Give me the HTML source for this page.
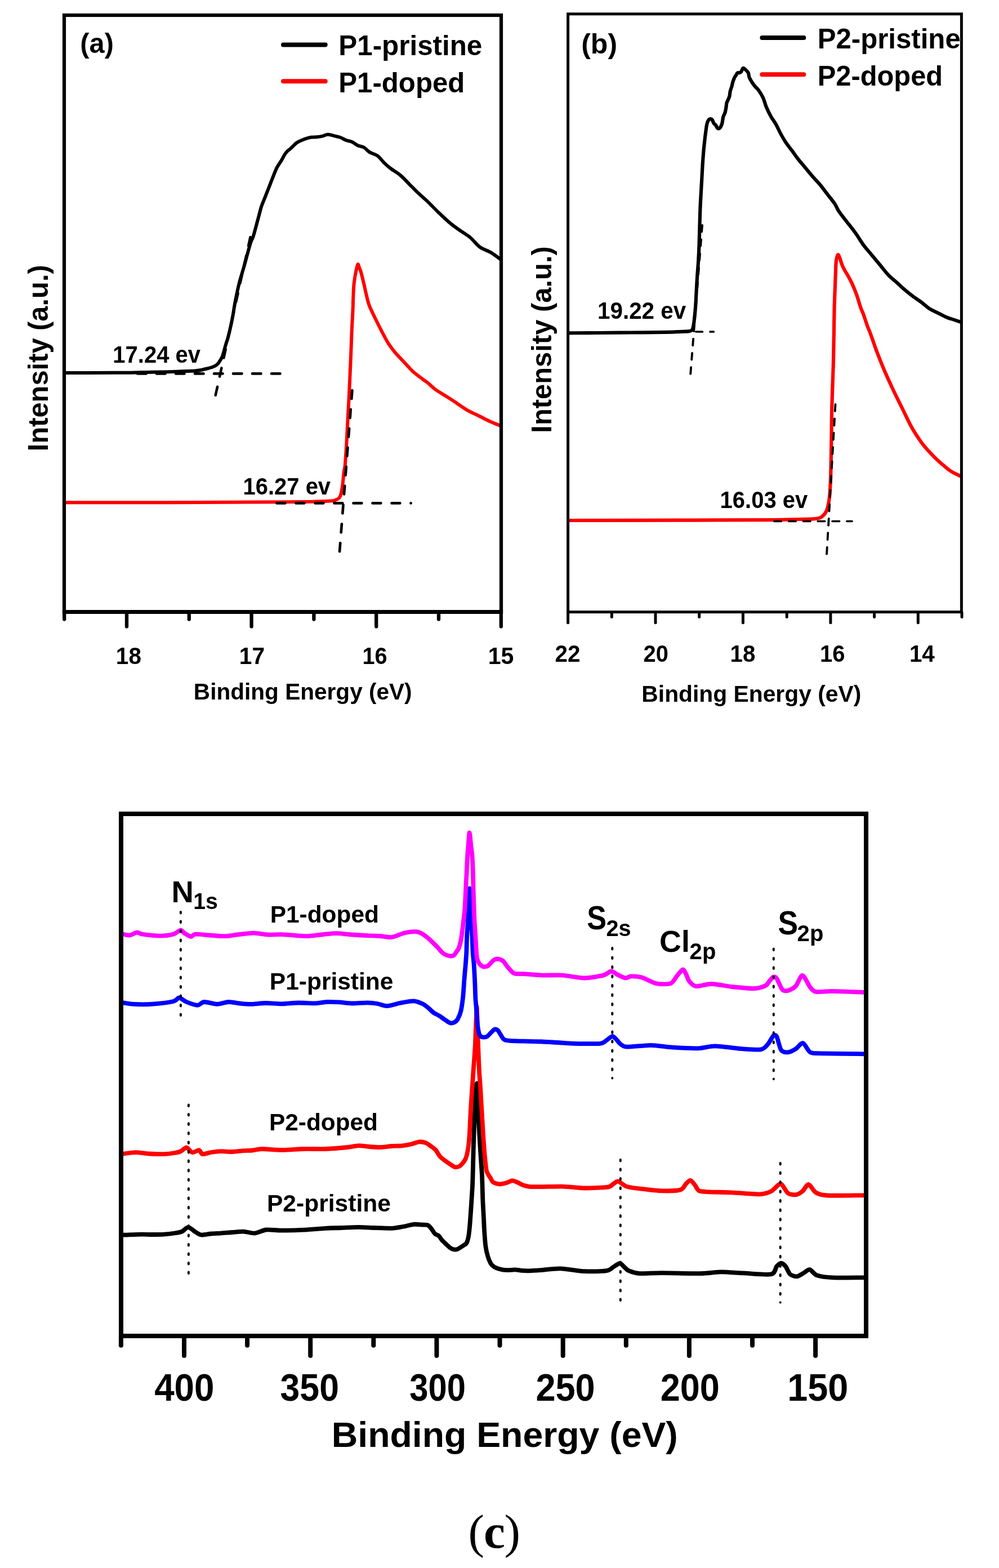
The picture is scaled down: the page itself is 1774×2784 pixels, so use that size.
<!DOCTYPE html>
<html><head><meta charset="utf-8"><title>Figure</title>
<style>html,body{margin:0;padding:0;background:#fff;}svg{display:block;}</style></head>
<body><svg xmlns="http://www.w3.org/2000/svg" width="1774" height="2784" viewBox="0 0 1774 2784">
<rect width="1774" height="2784" fill="#fff"/>
<path d="M114.0,661.9 C128.3,661.9 179.0,661.9 200.0,661.8 C221.0,661.7 223.3,661.7 240.0,661.4 C256.7,661.1 283.3,660.6 300.0,660.2 C316.7,659.8 331.8,659.1 340.0,658.8 C348.2,658.4 346.1,658.5 349.1,658.1 C352.2,657.8 355.2,657.3 358.3,656.7 C361.4,656.1 364.4,655.3 367.4,654.5 C370.4,653.7 373.8,653.0 376.5,652.0 C379.2,651.0 381.5,650.0 383.4,648.8 C385.3,647.6 386.5,646.3 387.9,644.6 C389.3,642.9 390.6,640.5 391.8,638.5 C393.0,636.5 393.9,635.4 395.0,632.5 C396.1,629.6 397.3,624.8 398.4,621.0 C399.5,617.2 400.4,613.5 401.5,610.0 C402.6,606.5 403.3,604.8 404.7,599.7 C406.1,594.7 408.1,586.4 409.6,579.7 C411.1,573.1 412.4,566.4 413.6,559.8 C414.8,553.2 415.7,546.5 416.9,539.9 C418.1,533.2 419.5,526.5 420.9,519.9 C422.3,513.2 423.5,507.5 425.5,500.0 C427.5,492.5 430.5,483.2 432.9,474.8 C435.3,466.4 437.7,457.1 439.7,449.8 C441.7,442.5 443.4,436.0 445.0,431.0 C446.6,426.0 448.0,424.8 449.6,420.0 C451.2,415.2 453.0,408.0 454.6,402.1 C456.2,396.2 457.7,390.5 459.3,384.7 C460.9,378.9 462.1,373.0 464.0,367.2 C465.9,361.4 468.5,355.6 470.8,349.8 C473.1,344.0 475.4,338.1 477.7,332.3 C480.0,326.5 482.1,320.7 484.5,314.9 C486.9,309.1 489.2,302.5 491.8,297.4 C494.4,292.3 497.8,288.2 500.0,284.5 C502.2,280.8 503.5,277.7 505.2,275.0 C506.9,272.3 508.7,270.1 510.4,268.3 C512.1,266.5 513.9,265.7 515.6,264.1 C517.4,262.5 519.1,260.6 520.9,258.9 C522.6,257.2 524.4,255.3 526.1,254.0 C527.8,252.7 528.7,252.2 531.3,251.0 C533.9,249.8 538.2,247.8 541.7,246.6 C545.2,245.4 548.7,244.4 552.2,243.8 C555.7,243.2 559.1,243.7 562.6,243.3 C566.1,242.9 569.7,242.3 573.0,241.6 C576.3,240.8 578.9,238.8 582.4,238.8 C585.9,238.8 590.2,240.5 593.9,241.4 C597.5,242.3 600.8,242.7 604.3,244.0 C607.8,245.3 611.2,247.7 614.7,249.0 C618.2,250.3 621.7,250.5 625.2,252.1 C628.7,253.7 632.1,256.8 635.6,258.4 C639.1,260.0 642.5,259.5 646.0,261.5 C649.5,263.5 652.4,267.9 656.5,270.4 C660.6,272.9 666.2,273.5 670.5,276.6 C674.8,279.8 678.4,285.5 682.4,289.3 C686.4,293.1 689.4,295.8 694.2,299.5 C699.0,303.2 705.6,306.6 711.2,311.4 C716.9,316.2 723.0,323.2 728.1,328.3 C733.2,333.4 736.6,337.1 741.7,341.9 C746.8,346.7 752.4,351.2 758.6,357.1 C764.8,363.0 772.2,371.0 779.0,377.5 C785.8,384.0 793.1,390.9 799.3,396.1 C805.5,401.3 810.4,404.6 816.3,408.8 C822.2,413.0 829.0,416.6 834.9,421.5 C840.8,426.4 845.7,434.0 851.9,438.5 C858.1,443.0 865.9,444.8 872.2,448.6 C878.6,452.4 887.0,459.4 890.0,461.5" fill="none" stroke="#000000" stroke-width="6.0" stroke-linejoin="round" stroke-linecap="butt"/>
<path d="M114.0,892.2 C145.0,892.2 244.0,892.3 300.0,892.2 C356.0,892.1 410.0,891.8 450.0,891.6 C490.0,891.4 517.3,891.3 540.0,891.0 C562.7,890.7 576.7,890.2 586.1,889.6 C595.5,889.0 593.9,888.2 596.5,887.4 C599.1,886.6 600.3,885.9 601.7,884.6 C603.1,883.3 603.9,881.7 604.8,879.5 C605.6,877.3 606.2,874.4 606.8,871.3 C607.4,868.2 607.8,864.4 608.3,860.9 C608.8,857.4 609.1,854.2 609.5,850.4 C609.9,846.6 610.2,842.0 610.7,838.0 C611.2,834.0 611.9,834.7 612.7,826.6 C613.5,818.5 614.4,803.7 615.3,789.2 C616.2,774.7 617.0,756.0 617.9,739.4 C618.8,722.8 619.7,706.1 620.5,689.5 C621.3,672.9 622.0,656.3 622.7,639.7 C623.4,623.1 624.0,604.8 624.6,589.8 C625.2,574.8 626.2,560.0 626.6,550.0 C627.0,540.0 626.9,537.0 627.2,530.0 C627.5,523.0 627.8,514.0 628.2,508.0 C628.7,502.0 629.2,498.5 629.9,494.1 C630.6,489.7 631.3,485.6 632.2,481.5 C633.1,477.4 634.4,470.2 635.4,469.3 C636.4,468.4 637.4,473.8 638.3,476.0 C639.2,478.2 639.9,479.4 640.8,482.4 C641.7,485.4 642.8,490.2 643.8,494.1 C644.8,498.0 645.5,501.2 646.6,505.8 C647.7,510.4 648.9,516.3 650.1,521.5 C651.3,526.7 652.8,533.0 654.0,537.1 C655.2,541.2 655.2,541.5 657.2,546.0 C659.2,550.5 662.4,557.3 665.7,564.0 C669.0,570.7 673.9,580.6 676.9,586.4 C679.9,592.2 681.2,594.9 683.5,599.0 C685.8,603.1 687.5,606.6 690.4,610.9 C693.3,615.2 697.4,620.8 700.9,625.0 C704.4,629.2 707.8,632.7 711.3,636.4 C714.8,640.1 718.2,643.7 721.7,647.4 C725.2,651.1 728.7,655.3 732.2,658.6 C735.7,661.9 739.1,664.5 742.6,667.2 C746.1,669.9 750.1,672.9 753.0,675.0 C755.9,677.1 756.7,677.3 760.0,680.0 C763.3,682.7 767.8,687.5 773.0,691.3 C778.2,695.1 785.2,699.1 791.3,703.0 C797.4,706.9 803.0,710.4 809.5,714.7 C816.0,719.0 823.6,724.7 830.4,728.6 C837.1,732.5 843.5,735.0 850.0,738.2 C856.5,741.4 862.8,745.0 869.5,748.0 C876.2,751.0 886.6,755.1 890.0,756.5" fill="none" stroke="#FF0000" stroke-width="6.0" stroke-linejoin="round" stroke-linecap="butt"/>
<line x1="244.0" y1="663.4" x2="497.5" y2="663.4" stroke="#000000" stroke-width="4.6" stroke-linecap="round" stroke-dasharray="15.5 18.5" stroke-dashoffset="0"/>
<line x1="444.5" y1="421.0" x2="380.5" y2="712.0" stroke="#000000" stroke-width="4.6" stroke-linecap="round" stroke-dasharray="15.5 18.5" stroke-dashoffset="0"/>
<line x1="491.5" y1="893.4" x2="729.6" y2="893.4" stroke="#000000" stroke-width="4.7" stroke-linecap="round" stroke-dasharray="14.8 19.2" stroke-dashoffset="0"/>
<line x1="625.4" y1="693.0" x2="602.6" y2="985.0" stroke="#000000" stroke-width="4.7" stroke-linecap="round" stroke-dasharray="15 19" stroke-dashoffset="0"/>
<rect x="114.0" y="27.0" width="776.0" height="1059.5" fill="none" stroke="#000" stroke-width="6.2"/>
<line x1="110.9" y1="1086.5" x2="893.1" y2="1086.5" stroke="#000000" stroke-width="7.0" stroke-linecap="butt"/>
<line x1="114.2" y1="1087.5" x2="114.2" y2="1099.6" stroke="#000000" stroke-width="6.3" stroke-linecap="round"/>
<line x1="225.0" y1="1087.5" x2="225.0" y2="1112.4" stroke="#000000" stroke-width="6.3" stroke-linecap="round"/>
<line x1="335.8" y1="1087.5" x2="335.8" y2="1099.6" stroke="#000000" stroke-width="6.3" stroke-linecap="round"/>
<line x1="446.6" y1="1087.5" x2="446.6" y2="1112.4" stroke="#000000" stroke-width="6.3" stroke-linecap="round"/>
<line x1="557.4" y1="1087.5" x2="557.4" y2="1099.6" stroke="#000000" stroke-width="6.3" stroke-linecap="round"/>
<line x1="668.2" y1="1087.5" x2="668.2" y2="1112.4" stroke="#000000" stroke-width="6.3" stroke-linecap="round"/>
<line x1="779.0" y1="1087.5" x2="779.0" y2="1099.6" stroke="#000000" stroke-width="6.3" stroke-linecap="round"/>
<line x1="889.8" y1="1087.5" x2="889.8" y2="1112.4" stroke="#000000" stroke-width="6.3" stroke-linecap="round"/>
<text x="205.87" y="1178.90" font-size="41.6" font-family='"Liberation Sans", Arial, sans-serif' font-weight="bold" textLength="45.04" lengthAdjust="spacingAndGlyphs">18</text>
<text x="424.76" y="1178.90" font-size="41.6" font-family='"Liberation Sans", Arial, sans-serif' font-weight="bold" textLength="45.27" lengthAdjust="spacingAndGlyphs">17</text>
<text x="643.42" y="1178.90" font-size="41.6" font-family='"Liberation Sans", Arial, sans-serif' font-weight="bold" textLength="44.16" lengthAdjust="spacingAndGlyphs">16</text>
<text x="866.73" y="1178.90" font-size="41.6" font-family='"Liberation Sans", Arial, sans-serif' font-weight="bold" textLength="45.69" lengthAdjust="spacingAndGlyphs">15</text>
<text x="343.86" y="1241.80" font-size="40.6" font-family='"Liberation Sans", Arial, sans-serif' font-weight="bold">Binding Energy (eV)</text>
<text transform="translate(84.80,797.90) rotate(-90)" x="-3.29" y="0" font-size="49.4" font-family='"Liberation Sans", Arial, sans-serif' font-weight="bold" textLength="330.89" lengthAdjust="spacingAndGlyphs">Intensity (a.u.)</text>
<text x="142.36" y="94.30" font-size="49.5" font-family='"Liberation Sans", Arial, sans-serif' font-weight="bold" textLength="59.56" lengthAdjust="spacingAndGlyphs">(a)</text>
<line x1="503.0" y1="79.4" x2="577.7" y2="79.4" stroke="#000000" stroke-width="8" stroke-linecap="round"/>
<line x1="503.0" y1="144.2" x2="577.7" y2="144.2" stroke="#FF0000" stroke-width="8" stroke-linecap="round"/>
<text x="601.27" y="97.90" font-size="49.6" font-family='"Liberation Sans", Arial, sans-serif' font-weight="bold" textLength="255.07" lengthAdjust="spacingAndGlyphs">P1-pristine</text>
<text x="601.28" y="163.90" font-size="49.6" font-family='"Liberation Sans", Arial, sans-serif' font-weight="bold" textLength="224.05" lengthAdjust="spacingAndGlyphs">P1-doped</text>
<text x="200.30" y="643.80" font-size="41.6" font-family='"Liberation Sans", Arial, sans-serif' font-weight="bold" textLength="155.71" lengthAdjust="spacingAndGlyphs">17.24 ev</text>
<text x="431.50" y="877.50" font-size="41.6" font-family='"Liberation Sans", Arial, sans-serif' font-weight="bold" textLength="155.61" lengthAdjust="spacingAndGlyphs">16.27 ev</text>
<path d="M1008.6,591.3 C1017.2,591.2 1041.4,591.1 1060.0,591.0 C1078.6,590.9 1100.0,590.7 1120.0,590.5 C1140.0,590.3 1164.2,590.1 1180.0,589.8 C1195.8,589.5 1207.7,588.9 1215.0,588.6 C1222.3,588.3 1221.8,588.3 1224.0,588.0 C1226.2,587.7 1227.0,587.4 1228.0,586.6 C1229.0,585.9 1229.5,585.9 1230.2,583.5 C1230.9,581.1 1231.6,578.5 1232.4,572.0 C1233.2,565.5 1234.4,553.6 1235.1,544.5 C1235.8,535.4 1236.1,526.2 1236.6,517.1 C1237.1,508.0 1237.6,498.8 1238.2,489.7 C1238.8,480.6 1239.7,471.4 1240.2,462.3 C1240.8,453.2 1241.2,444.0 1241.5,434.8 C1241.8,425.6 1242.0,417.7 1242.3,407.4 C1242.6,397.1 1242.9,383.2 1243.3,373.1 C1243.7,363.0 1244.1,355.7 1244.6,347.0 C1245.1,338.3 1245.6,329.5 1246.1,320.8 C1246.6,312.1 1247.0,303.3 1247.5,294.6 C1248.0,285.9 1248.8,275.8 1249.4,268.5 C1250.0,261.2 1250.6,256.8 1251.2,251.0 C1251.8,245.2 1252.6,238.7 1253.3,233.6 C1254.0,228.5 1254.5,223.8 1255.3,220.5 C1256.1,217.2 1256.9,215.1 1258.0,213.5 C1259.1,211.9 1260.8,211.1 1262.0,211.0 C1263.2,210.9 1264.0,211.7 1264.9,213.0 C1265.8,214.3 1266.5,217.2 1267.5,218.8 C1268.5,220.4 1269.8,220.8 1271.0,222.3 C1272.2,223.8 1273.2,227.3 1274.5,228.0 C1275.8,228.7 1277.5,228.1 1278.8,226.6 C1280.1,225.1 1281.4,222.0 1282.3,218.8 C1283.2,215.6 1283.4,210.5 1284.3,207.4 C1285.2,204.3 1286.7,202.7 1287.5,200.0 C1288.3,197.3 1288.8,194.2 1289.3,191.4 C1289.8,188.6 1289.8,185.5 1290.4,183.1 C1291.0,180.7 1292.2,178.9 1293.0,176.8 C1293.8,174.7 1294.9,173.0 1295.5,170.6 C1296.1,168.2 1296.0,165.1 1296.6,162.3 C1297.2,159.5 1298.5,156.8 1299.3,154.0 C1300.1,151.2 1300.7,147.8 1301.3,145.7 C1301.9,143.6 1302.3,142.9 1302.8,141.5 C1303.3,140.1 1303.8,138.8 1304.5,137.4 C1305.2,136.0 1306.4,134.5 1307.2,133.2 C1308.0,131.9 1308.5,130.2 1309.5,129.5 C1310.5,128.8 1312.1,129.3 1313.2,129.0 C1314.3,128.7 1315.0,128.8 1316.1,127.5 C1317.1,126.2 1318.2,121.7 1319.5,121.0 C1320.8,120.3 1322.1,122.2 1323.6,123.5 C1325.1,124.8 1327.4,126.7 1328.6,129.0 C1329.8,131.3 1329.4,134.4 1330.6,137.4 C1331.8,140.4 1334.3,144.4 1336.0,147.0 C1337.7,149.6 1338.7,150.8 1340.5,153.0 C1342.3,155.2 1344.5,156.7 1346.9,160.0 C1349.3,163.3 1352.4,167.8 1354.8,173.0 C1357.2,178.2 1358.9,185.7 1361.3,191.3 C1363.7,197.0 1366.3,201.9 1369.1,206.9 C1371.9,211.9 1375.4,216.3 1378.2,221.3 C1381.0,226.3 1383.2,231.7 1386.0,236.9 C1388.8,242.1 1391.7,247.3 1395.2,252.5 C1398.7,257.7 1403.2,263.2 1406.9,268.2 C1410.6,273.2 1413.4,277.5 1417.3,282.5 C1421.2,287.5 1426.1,293.0 1430.4,298.2 C1434.8,303.4 1439.1,308.8 1443.4,313.8 C1447.8,318.8 1452.2,323.0 1456.5,328.2 C1460.8,333.4 1465.2,339.5 1469.5,345.1 C1473.8,350.8 1479.1,357.0 1482.5,362.1 C1485.9,367.2 1486.3,370.4 1490.0,375.8 C1493.7,381.2 1499.7,388.5 1504.6,394.8 C1509.5,401.1 1514.3,407.0 1519.2,413.8 C1524.1,420.6 1528.9,429.1 1533.8,435.7 C1538.7,442.3 1543.5,447.3 1548.4,453.2 C1553.3,459.1 1558.1,464.9 1563.0,470.8 C1567.9,476.7 1572.7,483.2 1577.6,488.3 C1582.5,493.4 1587.3,497.0 1592.2,501.4 C1597.1,505.8 1601.9,510.5 1606.8,514.6 C1611.7,518.7 1616.5,522.6 1621.4,526.2 C1626.3,529.9 1631.1,532.8 1636.0,536.5 C1640.9,540.2 1645.7,545.0 1650.6,548.2 C1655.5,551.4 1660.3,553.1 1665.2,555.5 C1670.1,557.9 1674.9,560.7 1679.8,562.8 C1684.7,564.9 1689.8,566.3 1694.4,567.9 C1699.0,569.5 1705.2,571.5 1707.4,572.2" fill="none" stroke="#000000" stroke-width="6.2" stroke-linejoin="round" stroke-linecap="butt"/>
<path d="M1008.6,924.0 C1040.5,923.9 1141.4,923.8 1200.0,923.6 C1258.6,923.5 1323.3,923.4 1360.0,923.1 C1396.7,922.8 1405.5,922.3 1420.0,922.0 C1434.5,921.7 1440.4,921.9 1446.8,921.2 C1453.2,920.5 1455.1,920.5 1458.6,918.0 C1462.1,915.5 1465.7,911.7 1468.0,906.2 C1470.3,900.7 1471.4,894.5 1472.6,885.1 C1473.8,875.7 1474.4,865.5 1475.0,849.9 C1475.6,834.2 1475.8,812.7 1476.2,791.2 C1476.6,769.7 1476.7,744.3 1477.3,720.8 C1477.9,697.3 1479.1,672.2 1479.7,650.4 C1480.3,628.6 1480.6,604.6 1480.9,590.0 C1481.2,575.4 1481.1,571.9 1481.3,562.9 C1481.5,553.9 1481.6,545.2 1481.9,536.3 C1482.2,527.4 1482.6,518.5 1482.9,509.7 C1483.2,500.9 1483.6,490.9 1483.9,483.2 C1484.2,475.4 1484.2,468.3 1484.9,463.2 C1485.6,458.1 1486.9,453.2 1487.9,452.3 C1489.0,451.4 1490.0,454.9 1491.2,457.9 C1492.4,460.8 1493.8,466.4 1495.2,470.0 C1496.7,473.6 1498.2,476.7 1499.9,479.8 C1501.6,482.9 1503.4,485.4 1505.2,488.5 C1507.0,491.6 1508.7,494.9 1510.5,498.4 C1512.3,501.9 1514.1,505.8 1515.8,509.7 C1517.5,513.6 1519.0,517.7 1520.5,521.7 C1522.0,525.7 1523.2,529.6 1524.5,533.7 C1525.8,537.8 1527.0,542.3 1528.4,546.3 C1529.8,550.3 1531.6,553.7 1533.1,557.6 C1534.5,561.5 1535.8,565.8 1537.1,569.5 C1538.4,573.2 1539.3,576.4 1540.7,580.0 C1542.1,583.6 1543.6,586.7 1545.2,591.0 C1546.8,595.3 1548.6,600.6 1550.5,606.0 C1552.4,611.4 1553.4,614.8 1556.6,623.2 C1559.8,631.6 1565.2,645.4 1569.9,656.5 C1574.6,667.6 1579.7,678.6 1584.9,689.7 C1590.1,700.8 1595.8,711.9 1601.2,723.0 C1606.7,734.1 1613.1,747.8 1617.6,756.2 C1622.1,764.6 1624.4,768.0 1628.0,773.5 C1631.6,779.0 1634.0,783.1 1639.2,789.5 C1644.4,795.9 1653.4,805.7 1659.2,811.6 C1665.0,817.5 1669.1,820.8 1674.0,825.0 C1678.9,829.2 1682.9,833.1 1688.5,836.6 C1694.1,840.1 1704.2,844.6 1707.4,846.2" fill="none" stroke="#FF0000" stroke-width="6.2" stroke-linejoin="round" stroke-linecap="butt"/>
<line x1="1160.0" y1="589.0" x2="1267.3" y2="589.0" stroke="#000000" stroke-width="3.7" stroke-linecap="round" stroke-dasharray="11.5 13.6" stroke-dashoffset="-0.6"/>
<line x1="1247.0" y1="400.0" x2="1225.4" y2="674.0" stroke="#000000" stroke-width="3.9" stroke-linecap="round" stroke-dasharray="11.5 13.8" stroke-dashoffset="0"/>
<line x1="1374.8" y1="925.5" x2="1513.1" y2="925.5" stroke="#000000" stroke-width="3.6" stroke-linecap="round" stroke-dasharray="12.6 13.2" stroke-dashoffset="0"/>
<line x1="1483.5" y1="718.0" x2="1468.0" y2="985.0" stroke="#000000" stroke-width="3.8" stroke-linecap="round" stroke-dasharray="12 13.4" stroke-dashoffset="0"/>
<rect x="1008.6" y="24.8" width="698.8000000000001" height="1061.8" fill="none" stroke="#000" stroke-width="5.0"/>
<line x1="1008.6" y1="1087.6" x2="1008.6" y2="1105.8" stroke="#000000" stroke-width="5.0" stroke-linecap="round"/>
<line x1="1086.3" y1="1087.6" x2="1086.3" y2="1095.5" stroke="#000000" stroke-width="5.0" stroke-linecap="round"/>
<line x1="1164.0" y1="1087.6" x2="1164.0" y2="1105.8" stroke="#000000" stroke-width="5.0" stroke-linecap="round"/>
<line x1="1241.7" y1="1087.6" x2="1241.7" y2="1095.5" stroke="#000000" stroke-width="5.0" stroke-linecap="round"/>
<line x1="1319.4" y1="1087.6" x2="1319.4" y2="1105.8" stroke="#000000" stroke-width="5.0" stroke-linecap="round"/>
<line x1="1397.2" y1="1087.6" x2="1397.2" y2="1095.5" stroke="#000000" stroke-width="5.0" stroke-linecap="round"/>
<line x1="1474.9" y1="1087.6" x2="1474.9" y2="1105.8" stroke="#000000" stroke-width="5.0" stroke-linecap="round"/>
<line x1="1552.6" y1="1087.6" x2="1552.6" y2="1095.5" stroke="#000000" stroke-width="5.0" stroke-linecap="round"/>
<line x1="1630.3" y1="1087.6" x2="1630.3" y2="1105.8" stroke="#000000" stroke-width="5.0" stroke-linecap="round"/>
<line x1="1708.0" y1="1087.6" x2="1708.0" y2="1095.5" stroke="#000000" stroke-width="5.0" stroke-linecap="round"/>
<text x="985.49" y="1175.20" font-size="41.6" font-family='"Liberation Sans", Arial, sans-serif' font-weight="bold" textLength="44.92" lengthAdjust="spacingAndGlyphs">22</text>
<text x="1142.51" y="1175.20" font-size="41.6" font-family='"Liberation Sans", Arial, sans-serif' font-weight="bold" textLength="44.28" lengthAdjust="spacingAndGlyphs">20</text>
<text x="1296.48" y="1175.20" font-size="41.6" font-family='"Liberation Sans", Arial, sans-serif' font-weight="bold" textLength="44.82" lengthAdjust="spacingAndGlyphs">18</text>
<text x="1456.00" y="1175.20" font-size="41.6" font-family='"Liberation Sans", Arial, sans-serif' font-weight="bold" textLength="44.49" lengthAdjust="spacingAndGlyphs">16</text>
<text x="1614.88" y="1175.20" font-size="41.6" font-family='"Liberation Sans", Arial, sans-serif' font-weight="bold" textLength="44.92" lengthAdjust="spacingAndGlyphs">14</text>
<text x="1139.35" y="1245.80" font-size="40.6" font-family='"Liberation Sans", Arial, sans-serif' font-weight="bold" textLength="389.95" lengthAdjust="spacingAndGlyphs">Binding Energy (eV)</text>
<text transform="translate(978.90,765.40) rotate(-90)" x="-3.30" y="0" font-size="49.4" font-family='"Liberation Sans", Arial, sans-serif' font-weight="bold" textLength="331.50" lengthAdjust="spacingAndGlyphs">Intensity (a.u.)</text>
<text x="1032.20" y="94.70" font-size="50" font-family='"Liberation Sans", Arial, sans-serif' font-weight="bold">(b)</text>
<line x1="1353.4" y1="66.9" x2="1427.3" y2="66.9" stroke="#000000" stroke-width="8" stroke-linecap="round"/>
<line x1="1353.4" y1="132.3" x2="1427.3" y2="132.3" stroke="#FF0000" stroke-width="8" stroke-linecap="round"/>
<text x="1451.68" y="86.10" font-size="50" font-family='"Liberation Sans", Arial, sans-serif' font-weight="bold" textLength="254.05" lengthAdjust="spacingAndGlyphs">P2-pristine</text>
<text x="1451.70" y="152.10" font-size="50" font-family='"Liberation Sans", Arial, sans-serif' font-weight="bold" textLength="222.51" lengthAdjust="spacingAndGlyphs">P2-doped</text>
<text x="1061.08" y="566.10" font-size="41.6" font-family='"Liberation Sans", Arial, sans-serif' font-weight="bold" textLength="157.03" lengthAdjust="spacingAndGlyphs">19.22 ev</text>
<text x="1278.50" y="902.00" font-size="41.6" font-family='"Liberation Sans", Arial, sans-serif' font-weight="bold" textLength="155.81" lengthAdjust="spacingAndGlyphs">16.03 ev</text>
<path d="M219.0,2192.6 C223.2,2192.5 243.6,2191.7 250.4,2191.6 C257.2,2191.5 264.6,2192.0 270.0,2192.0 C275.4,2192.0 285.5,2191.9 290.8,2191.6 C296.1,2191.3 305.7,2190.2 310.0,2189.5 C314.3,2188.8 320.0,2188.0 323.2,2186.6 C326.4,2185.2 331.1,2179.1 334.3,2179.2 C337.5,2179.3 344.3,2185.8 347.4,2187.6 C350.5,2189.4 353.8,2192.2 357.5,2192.6 C361.2,2193.0 370.4,2190.9 375.0,2190.5 C379.6,2190.1 387.0,2189.9 391.9,2189.6 C396.8,2189.3 406.6,2188.4 412.0,2188.0 C417.4,2187.6 426.9,2186.4 432.3,2186.6 C437.7,2186.8 447.1,2190.0 452.5,2189.6 C457.9,2189.2 466.4,2184.2 472.7,2183.5 C479.0,2182.8 491.1,2184.7 500.0,2184.7 C508.9,2184.7 528.7,2184.2 539.1,2183.7 C549.5,2183.2 569.4,2181.3 578.2,2180.8 C587.0,2180.3 597.2,2180.3 605.0,2180.0 C612.8,2179.7 628.9,2178.8 636.9,2178.8 C644.9,2178.8 657.2,2179.7 665.0,2180.0 C672.8,2180.3 688.9,2181.1 695.6,2180.8 C702.3,2180.5 709.8,2178.9 715.0,2178.0 C720.2,2177.1 730.1,2174.4 734.7,2173.9 C739.3,2173.4 746.5,2174.3 749.8,2174.5 C753.1,2174.7 757.4,2174.2 759.6,2175.2 C761.8,2176.2 764.4,2179.6 766.1,2181.7 C767.8,2183.8 770.9,2189.1 772.6,2190.8 C774.3,2192.5 777.5,2192.7 779.1,2194.1 C780.7,2195.5 782.6,2199.3 784.3,2201.3 C786.0,2203.3 790.3,2207.3 792.2,2209.1 C794.1,2210.9 797.0,2213.8 798.7,2215.0 C800.4,2216.2 803.5,2217.8 805.2,2218.2 C806.9,2218.6 809.5,2219.0 811.7,2218.2 C813.9,2217.4 819.3,2213.9 821.5,2212.4 C823.7,2210.9 827.1,2209.5 828.5,2207.0 C829.9,2204.5 831.4,2198.6 832.2,2194.0 C833.0,2189.4 833.9,2179.8 834.5,2172.6 C835.1,2165.4 836.2,2149.7 836.8,2140.0 C837.4,2130.3 838.7,2113.2 839.2,2100.0 C839.7,2086.8 840.4,2053.5 840.7,2041.2 C841.0,2028.9 841.4,2018.0 841.8,2008.0 C842.2,1998.0 842.9,1976.3 843.4,1966.4 C843.9,1956.5 844.9,1939.7 845.4,1934.0 C845.9,1928.3 846.5,1923.5 846.9,1923.5 C847.3,1923.5 848.0,1926.1 848.4,1934.0 C848.8,1941.9 849.3,1970.9 849.8,1983.0 C850.3,1995.1 851.3,2014.6 851.9,2024.6 C852.5,2034.6 853.4,2049.1 854.0,2057.8 C854.6,2066.5 855.7,2080.7 856.1,2090.0 C856.5,2099.3 856.9,2118.4 857.2,2127.4 C857.5,2136.4 858.3,2149.3 858.7,2157.3 C859.1,2165.3 859.7,2179.7 860.2,2187.2 C860.7,2194.7 861.6,2207.5 862.4,2213.3 C863.2,2219.1 865.0,2226.5 866.2,2230.5 C867.4,2234.5 869.9,2240.7 871.4,2243.2 C872.9,2245.7 875.4,2247.9 877.4,2249.2 C879.4,2250.5 883.3,2252.1 886.3,2252.9 C889.3,2253.7 896.0,2255.0 899.8,2255.2 C903.6,2255.4 911.2,2254.3 914.7,2254.4 C918.2,2254.5 922.6,2255.6 926.0,2255.9 C929.4,2256.2 935.5,2256.4 940.0,2256.3 C944.5,2256.2 952.6,2255.7 960.0,2255.2 C967.4,2254.7 984.8,2252.0 995.2,2252.3 C1005.6,2252.6 1027.3,2256.7 1038.2,2257.2 C1049.1,2257.7 1070.4,2257.3 1077.3,2256.2 C1084.2,2255.1 1086.9,2250.8 1090.0,2249.0 C1093.1,2247.2 1098.4,2243.0 1100.8,2243.0 C1103.2,2243.0 1105.9,2247.2 1108.0,2249.0 C1110.1,2250.8 1112.8,2254.6 1116.5,2256.2 C1120.2,2257.8 1128.2,2260.6 1136.0,2261.1 C1143.8,2261.6 1160.8,2260.1 1175.1,2260.1 C1189.4,2260.1 1229.6,2261.3 1243.6,2261.1 C1257.6,2260.9 1269.7,2258.5 1279.8,2258.4 C1289.9,2258.3 1307.6,2259.9 1319.5,2260.4 C1331.4,2260.9 1361.2,2264.0 1369.2,2262.4 C1377.2,2260.8 1376.8,2251.1 1379.2,2248.5 C1381.6,2245.9 1385.0,2242.6 1387.1,2242.6 C1389.2,2242.6 1393.0,2245.9 1395.1,2248.5 C1397.2,2251.1 1400.3,2260.0 1403.0,2262.4 C1405.7,2264.8 1411.8,2266.7 1415.0,2266.4 C1418.2,2266.1 1423.9,2262.0 1426.9,2260.4 C1429.9,2258.8 1434.6,2253.7 1437.8,2254.2 C1441.0,2254.7 1445.3,2262.5 1450.7,2264.4 C1456.1,2266.3 1467.5,2267.9 1478.6,2268.4 C1489.7,2268.9 1526.6,2268.4 1534.0,2268.4" fill="none" stroke="#000000" stroke-width="7.8" stroke-linejoin="round" stroke-linecap="butt"/>
<path d="M215.0,2049.1 C218.4,2048.7 233.6,2046.2 240.3,2046.1 C247.0,2046.0 258.3,2048.1 265.0,2048.5 C271.7,2048.9 284.8,2049.3 290.8,2049.1 C296.8,2048.9 305.9,2047.7 310.0,2047.0 C314.1,2046.3 318.4,2045.4 321.2,2044.1 C324.0,2042.8 328.6,2037.2 331.3,2037.5 C334.0,2037.8 338.4,2045.5 341.4,2046.1 C344.4,2046.7 351.1,2041.7 353.5,2042.1 C355.9,2042.5 356.7,2048.6 359.6,2049.1 C362.5,2049.6 370.7,2046.7 375.0,2046.0 C379.3,2045.3 387.0,2044.2 391.9,2044.1 C396.8,2044.0 406.6,2045.1 412.0,2045.0 C417.4,2044.9 427.5,2043.4 432.3,2043.1 C437.1,2042.8 443.7,2042.9 448.0,2042.5 C452.3,2042.1 457.7,2040.1 464.6,2040.0 C471.5,2039.9 490.1,2041.9 500.0,2041.9 C509.9,2041.9 528.7,2040.3 539.1,2040.0 C549.5,2039.7 567.8,2040.4 578.2,2040.0 C588.6,2039.6 609.5,2037.8 617.3,2037.0 C625.1,2036.2 631.7,2034.2 636.9,2034.1 C642.1,2034.0 650.8,2035.6 656.0,2036.0 C661.2,2036.4 670.8,2037.1 676.0,2037.0 C681.2,2036.9 689.8,2035.4 695.0,2035.0 C700.2,2034.6 710.4,2034.6 715.1,2034.1 C719.8,2033.6 726.1,2032.4 730.0,2031.5 C733.9,2030.6 741.0,2027.6 744.5,2027.3 C748.0,2027.0 753.5,2028.2 756.2,2029.2 C758.9,2030.2 762.7,2033.3 765.0,2035.0 C767.3,2036.7 771.6,2039.4 773.8,2041.9 C776.0,2044.4 779.2,2051.1 781.6,2053.7 C784.0,2056.3 788.8,2059.7 791.5,2061.7 C794.2,2063.7 799.5,2067.2 801.7,2068.6 C803.9,2070.0 806.3,2072.1 808.3,2072.3 C810.3,2072.5 814.2,2072.2 816.6,2070.3 C819.0,2068.4 824.6,2062.2 826.6,2057.8 C828.6,2053.4 830.6,2043.6 831.6,2037.0 C832.6,2030.4 833.6,2016.3 834.1,2008.0 C834.6,1999.7 835.2,1983.7 835.7,1974.8 C836.2,1965.9 837.1,1951.5 837.8,1941.5 C838.5,1931.5 839.9,1910.9 840.7,1900.0 C841.5,1889.1 843.1,1868.7 843.6,1860.0 C844.1,1851.3 844.3,1841.7 844.6,1835.0 C844.9,1828.3 845.3,1816.4 845.6,1810.0 C845.9,1803.6 846.3,1787.0 846.6,1787.0 C846.9,1787.0 847.4,1803.6 847.6,1810.0 C847.8,1816.4 848.2,1828.3 848.4,1835.0 C848.6,1841.7 848.9,1851.3 849.2,1860.0 C849.5,1868.7 850.4,1890.2 850.9,1900.0 C851.4,1909.8 852.6,1923.2 853.2,1933.2 C853.8,1943.2 854.9,1963.7 855.6,1974.8 C856.3,1985.9 857.4,2006.3 858.1,2016.3 C858.8,2026.3 859.8,2041.2 860.6,2049.5 C861.4,2057.8 862.7,2073.1 864.0,2078.6 C865.3,2084.1 869.1,2088.3 870.6,2091.0 C872.1,2093.7 873.7,2097.1 875.1,2098.5 C876.5,2099.9 879.7,2101.0 881.4,2101.5 C883.1,2102.0 885.3,2102.7 887.8,2102.5 C890.3,2102.3 896.9,2100.8 899.8,2100.0 C902.7,2099.2 907.0,2096.3 909.5,2096.2 C912.0,2096.1 915.8,2098.1 918.5,2099.2 C921.2,2100.3 926.8,2103.5 929.7,2104.5 C932.6,2105.5 936.0,2106.4 940.0,2106.8 C944.0,2107.2 952.1,2107.2 960.0,2107.2 C967.9,2107.2 988.7,2106.3 999.1,2106.6 C1009.5,2106.9 1027.5,2109.4 1038.2,2109.5 C1048.9,2109.6 1072.5,2108.6 1079.3,2107.6 C1086.1,2106.6 1086.5,2103.3 1089.0,2102.0 C1091.5,2100.7 1094.8,2096.9 1097.9,2097.5 C1101.0,2098.1 1107.5,2104.9 1112.6,2106.6 C1117.7,2108.3 1127.7,2109.5 1136.0,2110.5 C1144.3,2111.5 1165.4,2114.1 1175.1,2114.4 C1184.8,2114.7 1202.7,2114.2 1208.4,2112.5 C1214.1,2110.8 1215.7,2104.3 1218.0,2102.0 C1220.3,2099.7 1223.9,2095.3 1226.0,2095.6 C1228.1,2095.9 1231.9,2101.5 1234.0,2104.0 C1236.1,2106.5 1238.1,2112.8 1241.6,2114.4 C1245.1,2116.0 1252.2,2115.9 1259.9,2116.3 C1267.6,2116.7 1287.7,2116.8 1299.6,2117.3 C1311.5,2117.8 1340.0,2120.6 1349.3,2120.3 C1358.6,2120.0 1364.3,2117.7 1369.2,2115.3 C1374.1,2112.9 1382.1,2101.6 1386.1,2102.0 C1390.1,2102.4 1395.4,2115.7 1399.0,2118.3 C1402.6,2120.9 1409.5,2121.7 1413.0,2121.3 C1416.5,2120.9 1421.9,2117.7 1424.9,2115.3 C1427.9,2112.9 1432.6,2102.7 1435.8,2103.0 C1439.0,2103.3 1444.4,2114.7 1448.8,2117.3 C1453.2,2119.9 1457.2,2121.8 1468.6,2122.5 C1480.0,2123.2 1525.3,2122.3 1534.0,2122.3" fill="none" stroke="#FF0000" stroke-width="7.8" stroke-linejoin="round" stroke-linecap="butt"/>
<path d="M215.0,1779.9 C218.0,1780.3 230.2,1782.5 237.4,1782.9 C244.6,1783.3 259.3,1783.6 268.7,1782.9 C278.1,1782.2 301.2,1779.5 307.8,1778.0 C314.4,1776.5 314.9,1771.4 318.0,1771.5 C321.1,1771.6 326.9,1777.2 331.3,1779.0 C335.7,1780.8 346.6,1784.8 350.8,1784.8 C355.0,1784.8 357.8,1779.3 362.5,1779.0 C367.2,1778.7 380.3,1782.9 386.0,1782.9 C391.7,1782.9 400.4,1779.2 405.6,1779.0 C410.8,1778.8 419.8,1781.0 425.0,1781.5 C430.2,1782.0 438.4,1783.0 444.7,1782.9 C451.0,1782.8 464.6,1781.1 472.0,1781.0 C479.4,1780.9 492.3,1782.4 500.0,1782.3 C507.7,1782.2 522.2,1780.6 530.0,1780.5 C537.8,1780.4 552.0,1781.6 558.7,1781.4 C565.4,1781.2 574.3,1779.3 580.0,1779.0 C585.7,1778.7 595.7,1779.1 601.7,1779.4 C607.7,1779.7 618.2,1781.4 625.0,1781.5 C631.8,1781.6 646.5,1780.3 652.5,1780.4 C658.5,1780.5 665.3,1781.2 670.0,1782.0 C674.7,1782.8 682.5,1786.3 687.8,1786.2 C693.1,1786.1 703.7,1782.2 710.0,1781.0 C716.3,1779.8 729.3,1777.2 734.7,1777.4 C740.1,1777.6 746.9,1780.8 750.3,1782.3 C753.7,1783.8 757.4,1786.9 760.0,1789.0 C762.6,1791.1 767.2,1796.1 769.9,1798.0 C772.6,1799.9 777.3,1801.8 780.0,1803.5 C782.7,1805.2 787.3,1808.8 790.0,1810.5 C792.7,1812.2 797.7,1815.9 800.0,1816.5 C802.3,1817.1 805.3,1815.9 807.0,1815.0 C808.7,1814.1 811.0,1812.7 812.5,1810.0 C814.0,1807.3 817.1,1800.3 818.4,1795.0 C819.7,1789.7 821.4,1777.3 822.2,1770.0 C823.0,1762.7 823.8,1747.7 824.4,1740.0 C825.0,1732.3 826.3,1718.8 826.8,1712.3 C827.3,1705.8 828.0,1697.6 828.3,1691.0 C828.6,1684.4 828.8,1669.6 829.1,1663.0 C829.4,1656.4 830.3,1647.4 830.6,1641.7 C830.9,1636.0 831.3,1626.2 831.6,1620.0 C831.9,1613.8 832.2,1600.7 832.5,1595.0 C832.8,1589.3 833.4,1577.5 833.7,1577.5 C834.0,1577.5 834.8,1589.3 835.1,1595.0 C835.4,1600.7 835.9,1613.8 836.2,1620.0 C836.5,1626.2 837.2,1636.0 837.5,1641.7 C837.8,1647.4 838.2,1656.4 838.5,1663.0 C838.8,1669.6 839.3,1684.4 839.7,1691.0 C840.1,1697.6 841.1,1705.5 841.6,1712.3 C842.1,1719.1 842.8,1734.0 843.2,1742.0 C843.6,1750.0 844.0,1766.1 844.3,1772.0 C844.6,1777.9 845.2,1782.3 845.5,1786.0 C845.8,1789.7 846.2,1796.1 846.5,1800.0 C846.8,1803.9 847.1,1811.0 847.5,1815.0 C847.9,1819.0 848.9,1826.9 849.5,1830.0 C850.1,1833.1 851.3,1837.1 852.3,1838.6 C853.3,1840.1 855.2,1841.2 856.9,1841.4 C858.6,1841.6 862.7,1841.6 864.8,1840.4 C866.9,1839.2 870.7,1834.3 872.6,1832.6 C874.5,1830.9 877.2,1827.7 878.8,1827.4 C880.4,1827.1 882.5,1827.6 884.6,1830.0 C886.7,1832.4 891.7,1842.9 894.6,1845.3 C897.5,1847.7 901.5,1847.4 906.2,1847.9 C910.9,1848.4 922.0,1848.5 929.5,1848.7 C937.0,1848.9 954.6,1849.2 962.7,1849.5 C970.8,1849.8 982.5,1850.6 990.0,1851.0 C997.5,1851.4 1008.6,1852.6 1018.7,1852.8 C1028.8,1853.0 1057.8,1853.6 1065.6,1852.8 C1073.4,1852.0 1074.1,1848.7 1077.0,1847.0 C1079.9,1845.3 1084.8,1840.3 1087.1,1840.0 C1089.4,1839.7 1092.2,1843.3 1094.0,1845.0 C1095.8,1846.7 1098.3,1851.0 1100.8,1852.8 C1103.3,1854.6 1105.3,1858.3 1112.6,1858.7 C1119.9,1859.1 1144.7,1855.7 1155.6,1855.8 C1166.5,1855.9 1183.4,1859.0 1194.7,1859.7 C1206.0,1860.4 1230.0,1861.6 1240.0,1861.3 C1250.0,1861.0 1259.2,1857.2 1269.8,1857.3 C1280.4,1857.4 1308.6,1861.5 1319.5,1862.3 C1330.4,1863.1 1345.5,1864.4 1351.3,1863.3 C1357.1,1862.2 1360.4,1857.6 1363.3,1854.4 C1366.2,1851.2 1371.1,1841.1 1373.2,1839.2 C1375.3,1837.3 1377.3,1837.1 1379.2,1840.4 C1381.1,1843.7 1384.5,1860.6 1387.1,1864.3 C1389.7,1868.0 1395.5,1868.6 1399.0,1868.3 C1402.5,1868.0 1409.4,1864.5 1413.0,1862.3 C1416.6,1860.1 1422.5,1851.2 1425.9,1852.0 C1429.3,1852.8 1434.4,1865.9 1438.8,1868.3 C1443.2,1870.7 1446.0,1869.9 1458.7,1870.3 C1471.4,1870.7 1524.0,1871.2 1534.0,1871.3" fill="none" stroke="#0000FF" stroke-width="7.8" stroke-linejoin="round" stroke-linecap="butt"/>
<path d="M215.0,1657.7 C216.9,1658.1 225.8,1660.9 229.6,1660.6 C233.4,1660.3 240.1,1656.0 243.2,1655.7 C246.3,1655.4 247.5,1657.9 253.0,1658.7 C258.5,1659.5 277.0,1661.6 284.3,1661.6 C291.6,1661.6 303.0,1660.0 307.8,1658.7 C312.6,1657.4 317.9,1651.8 320.5,1651.5 C323.1,1651.2 324.8,1655.2 327.3,1656.7 C329.8,1658.2 336.4,1662.7 339.0,1663.0 C341.6,1663.3 342.5,1659.0 346.9,1658.7 C351.3,1658.4 365.0,1660.0 372.0,1660.5 C379.0,1661.0 392.6,1662.4 399.7,1662.2 C406.8,1662.0 418.2,1659.7 425.0,1659.0 C431.8,1658.3 443.9,1656.6 450.6,1656.7 C457.3,1656.8 468.4,1659.2 475.0,1659.5 C481.6,1659.8 493.3,1658.9 500.0,1659.1 C506.7,1659.3 518.5,1660.6 525.0,1661.0 C531.5,1661.4 542.2,1662.3 548.9,1662.0 C555.6,1661.7 568.5,1659.6 575.0,1659.0 C581.5,1658.4 591.1,1657.1 597.8,1657.2 C604.5,1657.3 617.7,1659.0 625.0,1659.5 C632.3,1660.0 645.8,1660.8 652.5,1661.1 C659.2,1661.4 669.3,1661.6 675.0,1662.0 C680.7,1662.4 689.7,1664.8 695.6,1664.0 C701.5,1663.2 713.3,1657.5 719.0,1656.2 C724.7,1654.9 734.7,1654.1 738.6,1654.2 C742.5,1654.3 745.4,1655.7 748.0,1657.0 C750.6,1658.3 755.5,1661.9 758.2,1664.0 C760.9,1666.1 765.4,1670.5 768.0,1673.0 C770.6,1675.5 775.4,1680.1 777.7,1682.6 C780.0,1685.1 783.6,1689.7 785.5,1691.4 C787.4,1693.1 790.1,1694.7 792.0,1695.5 C793.9,1696.3 798.0,1697.4 799.9,1697.5 C801.8,1697.6 804.6,1697.0 806.0,1696.0 C807.4,1695.0 809.4,1691.6 810.5,1690.0 C811.6,1688.4 813.4,1686.7 814.5,1684.0 C815.6,1681.3 817.6,1673.7 818.4,1670.0 C819.2,1666.3 819.9,1660.7 820.5,1656.0 C821.1,1651.3 822.4,1640.4 823.1,1634.7 C823.8,1629.0 824.9,1619.2 825.4,1613.5 C825.9,1607.8 826.2,1597.9 826.5,1592.3 C826.8,1586.7 827.2,1576.8 827.5,1571.2 C827.8,1565.6 828.4,1554.8 828.6,1550.0 C828.8,1545.2 829.1,1539.3 829.3,1535.0 C829.5,1530.7 829.9,1522.7 830.2,1518.0 C830.5,1513.3 831.3,1504.7 831.7,1500.0 C832.1,1495.3 832.7,1485.9 833.0,1483.0 C833.3,1480.1 833.4,1478.5 833.6,1478.5 C833.8,1478.5 834.3,1480.1 834.6,1483.0 C834.9,1485.9 835.7,1495.3 836.2,1500.0 C836.7,1504.7 838.0,1513.3 838.4,1518.0 C838.8,1522.7 839.2,1530.7 839.4,1535.0 C839.6,1539.3 839.8,1545.2 839.9,1550.0 C840.0,1554.8 840.3,1565.6 840.4,1571.2 C840.5,1576.8 840.8,1586.7 841.0,1592.3 C841.2,1597.9 841.5,1607.8 841.7,1613.5 C841.9,1619.2 842.2,1629.0 842.5,1634.7 C842.8,1640.4 843.5,1650.3 843.9,1655.9 C844.3,1661.5 844.8,1671.4 845.2,1677.0 C845.6,1682.6 846.1,1694.2 846.6,1698.2 C847.1,1702.2 848.2,1705.1 849.0,1707.0 C849.8,1708.9 851.2,1711.1 852.3,1712.3 C853.4,1713.5 856.0,1715.2 857.0,1715.8 C858.0,1716.4 858.7,1716.6 860.0,1716.5 C861.3,1716.4 864.2,1716.5 866.4,1715.0 C868.6,1713.5 874.1,1706.7 876.3,1705.0 C878.5,1703.3 880.8,1702.4 883.0,1702.5 C885.2,1702.6 890.6,1704.0 893.0,1705.9 C895.4,1707.8 898.6,1713.6 901.3,1716.6 C904.0,1719.6 909.1,1726.6 912.9,1728.3 C916.7,1730.0 922.9,1728.7 929.5,1729.1 C936.1,1729.5 953.4,1731.3 962.7,1731.6 C972.0,1731.9 989.0,1730.9 999.1,1731.6 C1009.2,1732.3 1028.5,1736.5 1038.2,1736.5 C1047.9,1736.5 1065.2,1733.2 1071.5,1731.6 C1077.8,1730.0 1081.8,1724.6 1085.2,1724.5 C1088.6,1724.4 1093.5,1729.0 1096.9,1730.6 C1100.3,1732.2 1107.5,1736.1 1110.6,1736.5 C1113.7,1736.9 1116.5,1733.6 1120.4,1733.5 C1124.3,1733.4 1133.9,1733.8 1139.9,1735.5 C1145.9,1737.2 1158.6,1744.8 1165.4,1746.2 C1172.2,1747.6 1185.9,1748.0 1190.8,1746.2 C1195.7,1744.4 1199.1,1736.3 1202.0,1733.0 C1204.9,1729.7 1210.2,1722.0 1212.3,1721.5 C1214.4,1721.0 1216.4,1726.2 1218.0,1729.0 C1219.6,1731.8 1221.6,1739.4 1224.0,1742.3 C1226.4,1745.2 1230.5,1750.5 1235.8,1751.1 C1241.1,1751.7 1255.4,1746.9 1263.9,1747.0 C1272.4,1747.1 1289.5,1750.9 1299.6,1752.0 C1309.7,1753.1 1331.4,1755.3 1339.4,1755.0 C1347.4,1754.7 1355.6,1751.9 1359.3,1750.0 C1363.0,1748.1 1365.1,1743.0 1367.0,1741.0 C1368.9,1739.0 1371.6,1735.3 1373.2,1734.8 C1374.8,1734.3 1377.1,1734.2 1379.2,1737.1 C1381.3,1740.0 1386.5,1754.0 1389.1,1756.9 C1391.7,1759.8 1395.8,1759.7 1399.0,1758.9 C1402.2,1758.1 1409.5,1754.6 1413.0,1751.0 C1416.5,1747.4 1421.5,1731.5 1424.9,1731.8 C1428.3,1732.1 1435.6,1749.1 1438.8,1753.0 C1442.0,1756.9 1443.5,1760.0 1448.8,1760.9 C1454.1,1761.8 1467.2,1759.8 1478.6,1759.9 C1490.0,1760.0 1526.6,1761.6 1534.0,1761.9" fill="none" stroke="#FF00FF" stroke-width="7.8" stroke-linejoin="round" stroke-linecap="butt"/>
<line x1="320.9" y1="1619.0" x2="320.9" y2="1816.5" stroke="#000000" stroke-width="4.0" stroke-linecap="round" stroke-dasharray="2.6 13.9" stroke-dashoffset="0"/>
<line x1="1087.3" y1="1683.0" x2="1087.3" y2="1914.5" stroke="#000000" stroke-width="4.0" stroke-linecap="round" stroke-dasharray="2.6 13.9" stroke-dashoffset="0"/>
<line x1="1373.8" y1="1684.5" x2="1373.8" y2="1916.0" stroke="#000000" stroke-width="4.0" stroke-linecap="round" stroke-dasharray="2.6 13.9" stroke-dashoffset="0"/>
<line x1="334.9" y1="1961.5" x2="334.9" y2="2261.5" stroke="#000000" stroke-width="4.0" stroke-linecap="round" stroke-dasharray="2.6 13.9" stroke-dashoffset="0"/>
<line x1="1101.8" y1="2059.0" x2="1101.8" y2="2309.5" stroke="#000000" stroke-width="4.0" stroke-linecap="round" stroke-dasharray="2.6 13.9" stroke-dashoffset="0"/>
<line x1="1385.7" y1="2065.0" x2="1385.7" y2="2312.5" stroke="#000000" stroke-width="4.0" stroke-linecap="round" stroke-dasharray="2.6 13.9" stroke-dashoffset="0"/>
<rect x="215.0" y="1445.0" width="1323.0" height="927.0" fill="none" stroke="#000" stroke-width="8.0"/>
<line x1="214.9" y1="2373.0" x2="214.9" y2="2388.7" stroke="#000000" stroke-width="8.0" stroke-linecap="round"/>
<line x1="327.0" y1="2373.0" x2="327.0" y2="2407.0" stroke="#000000" stroke-width="8.0" stroke-linecap="round"/>
<line x1="439.1" y1="2373.0" x2="439.1" y2="2388.7" stroke="#000000" stroke-width="8.0" stroke-linecap="round"/>
<line x1="551.2" y1="2373.0" x2="551.2" y2="2407.0" stroke="#000000" stroke-width="8.0" stroke-linecap="round"/>
<line x1="663.3" y1="2373.0" x2="663.3" y2="2388.7" stroke="#000000" stroke-width="8.0" stroke-linecap="round"/>
<line x1="775.4" y1="2373.0" x2="775.4" y2="2407.0" stroke="#000000" stroke-width="8.0" stroke-linecap="round"/>
<line x1="887.5" y1="2373.0" x2="887.5" y2="2388.7" stroke="#000000" stroke-width="8.0" stroke-linecap="round"/>
<line x1="999.7" y1="2373.0" x2="999.7" y2="2407.0" stroke="#000000" stroke-width="8.0" stroke-linecap="round"/>
<line x1="1111.8" y1="2373.0" x2="1111.8" y2="2388.7" stroke="#000000" stroke-width="8.0" stroke-linecap="round"/>
<line x1="1223.9" y1="2373.0" x2="1223.9" y2="2407.0" stroke="#000000" stroke-width="8.0" stroke-linecap="round"/>
<line x1="1336.0" y1="2373.0" x2="1336.0" y2="2388.7" stroke="#000000" stroke-width="8.0" stroke-linecap="round"/>
<line x1="1448.1" y1="2373.0" x2="1448.1" y2="2407.0" stroke="#000000" stroke-width="8.0" stroke-linecap="round"/>
<text x="274.14" y="2486.60" font-size="69.0" font-family='"Liberation Sans", Arial, sans-serif' font-weight="bold" textLength="106.37" lengthAdjust="spacingAndGlyphs">400</text>
<text x="497.59" y="2486.60" font-size="69.0" font-family='"Liberation Sans", Arial, sans-serif' font-weight="bold" textLength="104.37" lengthAdjust="spacingAndGlyphs">350</text>
<text x="727.26" y="2486.60" font-size="69.0" font-family='"Liberation Sans", Arial, sans-serif' font-weight="bold" textLength="99.59" lengthAdjust="spacingAndGlyphs">300</text>
<text x="951.39" y="2486.60" font-size="69.0" font-family='"Liberation Sans", Arial, sans-serif' font-weight="bold" textLength="105.19" lengthAdjust="spacingAndGlyphs">250</text>
<text x="1172.80" y="2486.60" font-size="69.0" font-family='"Liberation Sans", Arial, sans-serif' font-weight="bold" textLength="105.09" lengthAdjust="spacingAndGlyphs">200</text>
<text x="1398.15" y="2486.60" font-size="69.0" font-family='"Liberation Sans", Arial, sans-serif' font-weight="bold" textLength="108.00" lengthAdjust="spacingAndGlyphs">150</text>
<text x="588.86" y="2568.70" font-size="63.5" font-family='"Liberation Sans", Arial, sans-serif' font-weight="bold" textLength="614.95" lengthAdjust="spacingAndGlyphs">Binding Energy (eV)</text>
<text x="831.4" y="2747.7" font-size="85.5" font-family='"Liberation Serif", "Times New Roman", serif'>(</text>
<text x="859.0" y="2748.1" font-size="85.5" font-family='"Liberation Serif", "Times New Roman", serif' font-weight="bold">c</text>
<text x="895.6" y="2747.7" font-size="85.5" font-family='"Liberation Serif", "Times New Roman", serif'>)</text>
<text x="304.62" y="1602.10" font-size="54.5" font-family='"Liberation Sans", Arial, sans-serif' font-weight="bold">N</text>
<text x="343.14" y="1614.30" font-size="41.5" font-family='"Liberation Sans", Arial, sans-serif' font-weight="bold" textLength="43.72" lengthAdjust="spacingAndGlyphs">1s</text>
<text x="479.64" y="1638.00" font-size="42.8" font-family='"Liberation Sans", Arial, sans-serif' font-weight="bold" textLength="193.36" lengthAdjust="spacingAndGlyphs">P1-doped</text>
<text x="478.83" y="1757.00" font-size="42.8" font-family='"Liberation Sans", Arial, sans-serif' font-weight="bold" textLength="219.58" lengthAdjust="spacingAndGlyphs">P1-pristine</text>
<text x="477.94" y="2006.90" font-size="42.8" font-family='"Liberation Sans", Arial, sans-serif' font-weight="bold" textLength="193.05" lengthAdjust="spacingAndGlyphs">P2-doped</text>
<text x="473.93" y="2151.30" font-size="42.8" font-family='"Liberation Sans", Arial, sans-serif' font-weight="bold" textLength="220.09" lengthAdjust="spacingAndGlyphs">P2-pristine</text>
<text x="1042.34" y="1650.40" font-size="58.5" font-family='"Liberation Sans", Arial, sans-serif' font-weight="bold" textLength="34.72" lengthAdjust="spacingAndGlyphs">S</text>
<text x="1076.51" y="1661.80" font-size="41.5" font-family='"Liberation Sans", Arial, sans-serif' font-weight="bold" textLength="44.17" lengthAdjust="spacingAndGlyphs">2s</text>
<text x="1171.05" y="1689.50" font-size="54.5" font-family='"Liberation Sans", Arial, sans-serif' font-weight="bold" textLength="53.82" lengthAdjust="spacingAndGlyphs">Cl</text>
<text x="1224.59" y="1703.20" font-size="41.5" font-family='"Liberation Sans", Arial, sans-serif' font-weight="bold" textLength="46.90" lengthAdjust="spacingAndGlyphs">2p</text>
<text x="1381.50" y="1658.50" font-size="58.5" font-family='"Liberation Sans", Arial, sans-serif' font-weight="bold" textLength="35.61" lengthAdjust="spacingAndGlyphs">S</text>
<text x="1415.60" y="1670.50" font-size="41.5" font-family='"Liberation Sans", Arial, sans-serif' font-weight="bold" textLength="46.79" lengthAdjust="spacingAndGlyphs">2p</text>
</svg></body></html>
